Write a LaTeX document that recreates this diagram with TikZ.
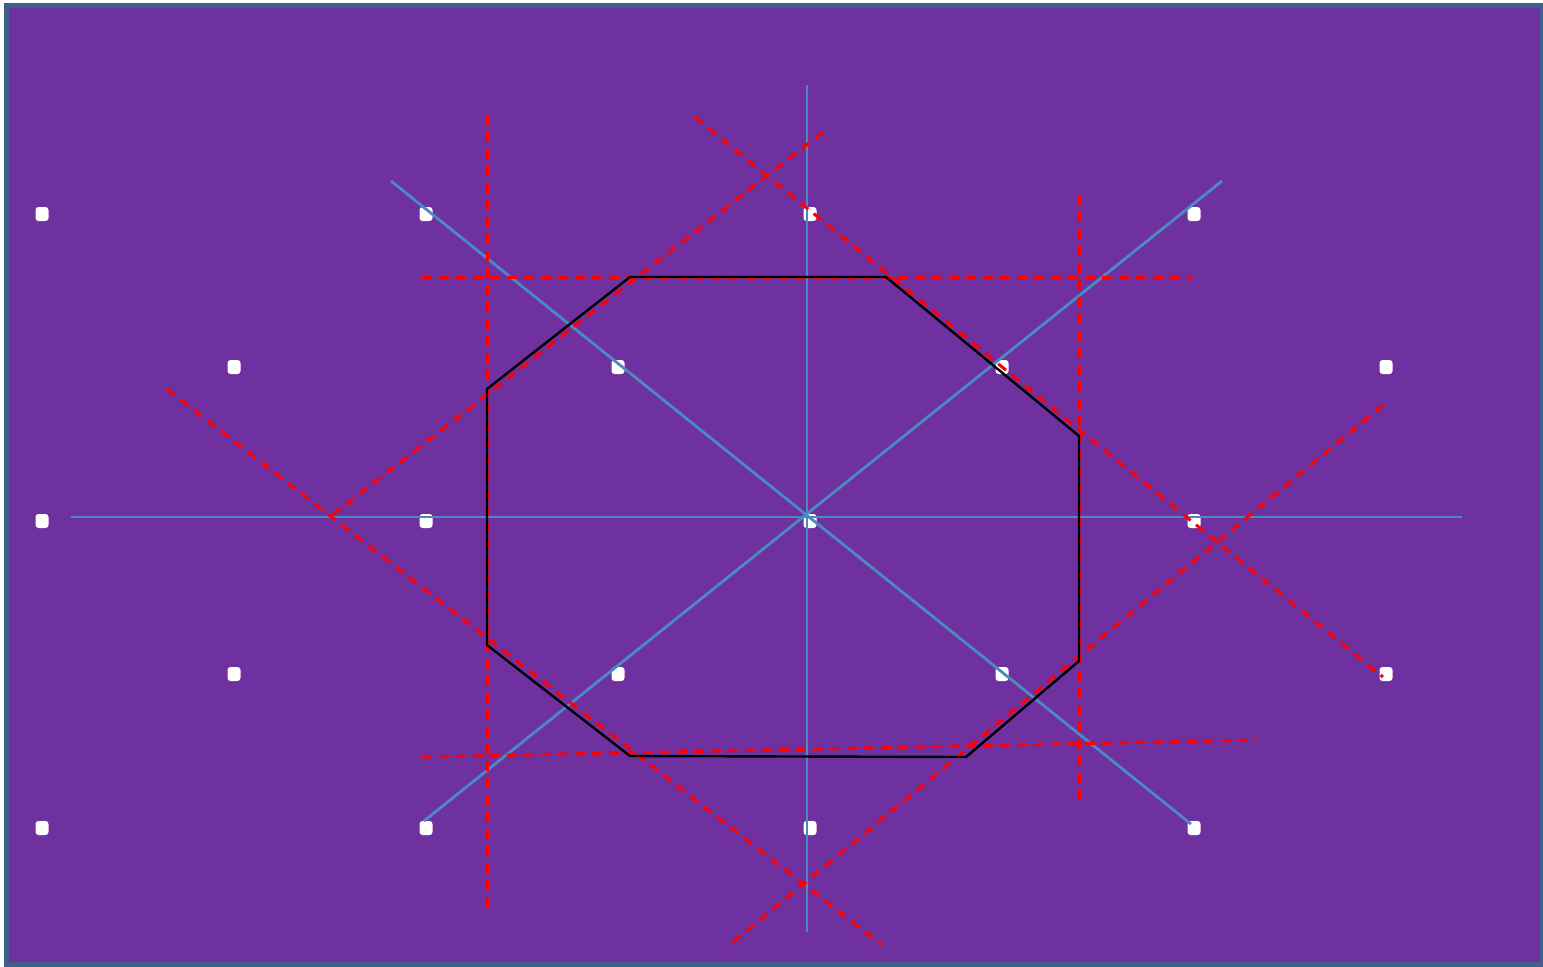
\documentclass[tikz,border=0pt]{standalone}
\usepackage{tikz}
\usetikzlibrary{positioning}

\definecolor{lila}{RGB}{112,49,160}
\definecolor{rahmen}{RGB}{62,96,138}
\definecolor{achsblau}{RGB}{74,138,192}

\begin{document}
\begin{tikzpicture}[x=0.5pt, y=-0.5pt,
  punkt/.style={fill=white, rounded corners=1.5pt, minimum width=6.5pt,
                minimum height=7pt, inner sep=0pt},
  achse/.style={achsblau, line width=1.4pt},
  zelle/.style={black, line width=1.2pt, line join=round},
  hilfslinie/.style={red, line width=1.5pt, dash pattern=on 5pt off 3.5pt}]
  \useasboundingbox (0,0) rectangle (1543,966);

  % Hintergrund
  \draw[fill=lila, draw=rahmen, line width=2.5pt] (6.5,5.5) rectangle (1542,964);

  % Gitterpunkte
  \foreach \y [count=\j] in {214,521,828}
    \foreach \x [count=\i] in {42,426,810,1194}
      \node[punkt] (a\j\i) at (\x,\y) {};
  \foreach \y [count=\j] in {367,674}
    \foreach \x [count=\i] in {234,618,1002,1386}
      \node[punkt] (b\j\i) at (\x,\y) {};

  % Achsen
  \coordinate (v1) at (807,85);   \coordinate (v2) at (807,932);
  \coordinate (h1) at (71,517);   \coordinate (h2) at (1462,517);
  \coordinate (d1) at (391,181);  \coordinate (d2) at (1191,824);
  \coordinate (e1) at (1222,181); \coordinate (e2) at (424,821);
  \draw[achse] (v1) -- (v2);
  \draw[achse] (h1) -- (h2);
  \draw[achse] (d1) -- (d2);
  \draw[achse] (e1) -- (e2);

  % Mittelsenkrechten
  \coordinate (r1) at (487,115);  \coordinate (r2) at (487,912);
  \coordinate (s1) at (1079,195); \coordinate (s2) at (1079,805);
  \coordinate (t1) at (422,277);  \coordinate (t2) at (1192,277);
  \coordinate (u1) at (422,757);  \coordinate (u2) at (1257,740);
  \coordinate (w1) at (695,117);  \coordinate (w2) at (1383,677);
  \coordinate (x1) at (823,132);  \coordinate (x2) at (330,517);
  \coordinate (y1) at (167,389);  \coordinate (y2) at (882,945);
  \coordinate (z1) at (1383,405); \coordinate (z2) at (727,947);
  \draw[hilfslinie] (r1) -- (r2);
  \draw[hilfslinie] (s1) -- (s2);
  \draw[hilfslinie] (t1) -- (t2);
  \draw[hilfslinie] (u1) -- (u2);
  \draw[hilfslinie] (w1) -- (w2);
  \draw[hilfslinie] (x1) -- (x2);
  \draw[hilfslinie] (y1) -- (y2);
  \draw[hilfslinie] (z1) -- (z2);

  % Zelle
  \coordinate (o1) at (630,277);
  \coordinate (o2) at (886,277);
  \coordinate (o3) at (1079,436);
  \coordinate (o4) at (1079,661);
  \coordinate (o5) at (966,757);
  \coordinate (o6) at (630,756);
  \coordinate (o7) at (487,645);
  \coordinate (o8) at (487,389);
  \draw[zelle] (o1) -- (o2) -- (o3) -- (o4) -- (o5) -- (o6) -- (o7) -- (o8) -- cycle;
\end{tikzpicture}
\end{document}
